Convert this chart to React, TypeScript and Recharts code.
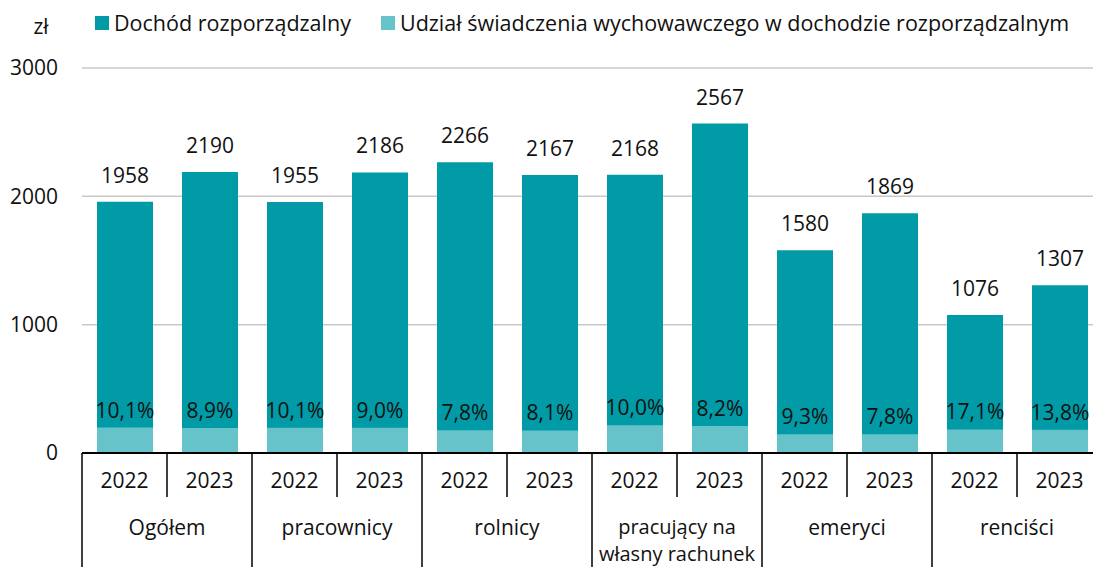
import { BarChart, Bar, XAxis, YAxis, CartesianGrid, Legend, LabelList } from 'recharts'

const groups = ['Ogółem', 'pracownicy', 'rolnicy', 'pracujący na\nwłasny rachunek', 'emeryci', 'renciści']
const years = ['2022', '2023']
// Dochód rozporządzalny (zł) per group and year
const income = [1958, 2190, 1955, 2186, 2266, 2167, 2168, 2567, 1580, 1869, 1076, 1307]
// Udział świadczenia wychowawczego (%)
const share = [10.1, 8.9, 10.1, 9.0, 7.8, 8.1, 10.0, 8.2, 9.3, 7.8, 17.1, 13.8]
const yTicks = [0, 1000, 2000, 3000]

const DARK = '#009ba6'
const LIGHT = '#66c3ca'
const FONT = '"Open Sans", sans-serif'
const FS = 21

const CHART_W = 1102
const CHART_H = 567
const Y_W = 82
const BAND = (CHART_W - Y_W) / income.length

const data = income.map((v, i) => ({
    key: i,
    year: years[i % 2],
    group: groups[Math.floor(i / 2)],
    income: v,
    share: share[i],
    benefit: (v * share[i]) / 100,
}))

function GroupTick(props: any) {
    const { x, y, payload } = props
    const i = payload.index ?? payload.value
    const half = BAND / 2
    const isGroupEnd = i % 2 === 1
    const lines: string[] = isGroupEnd ? [] : data[i].group.split('\n')
    return (
        <g>
            <text x={x} y={y + 35} textAnchor="middle" fontSize={FS} fontFamily={FONT} fill="#111">
                {data[i].year}
            </text>
            {i === 0 && <line x1={x - half} y1={y} x2={x - half} y2={CHART_H} stroke="#000" strokeWidth={1.5} />}
            <line
                x1={x + half}
                y1={y}
                x2={x + half}
                y2={isGroupEnd ? CHART_H : y + 44}
                stroke="#000"
                strokeWidth={1.5}
            />
            {lines.map((t, k) => (
                <text
                    key={k}
                    x={x + half}
                    y={y + 82 - (lines.length > 1 ? 1 : 0) + k * 27}
                    textAnchor="middle"
                    fontSize={lines.length > 1 ? 20 : FS}
                    fontFamily={FONT}
                    fill="#111"
                >
                    {t}
                </text>
            ))}
        </g>
    )
}

function LegendContent() {
    const items = [
        { label: 'Dochód rozporządzalny', color: DARK },
        { label: 'Udział świadczenia wychowawczego w dochodzie rozporządzalnym', color: LIGHT },
    ]
    return (
        <div style={{ display: 'flex', fontFamily: FONT, fontSize: 21.5, color: '#111', paddingLeft: 95 }}>
            {items.map(it => (
                <div key={it.label} style={{ display: 'flex', alignItems: 'center', marginRight: 30 }}>
                    <span style={{ width: 14, height: 14, background: it.color, display: 'inline-block', marginRight: 5 }} />
                    <span>{it.label}</span>
                </div>
            ))}
        </div>
    )
}

export default function App() {
    return (
        <div style={{ position: 'absolute', left: 0, top: 0, width: 1093, height: 567, overflow: 'hidden', background: '#fff' }}>
            <BarChart
                width={CHART_W}
                height={CHART_H}
                data={data}
                margin={{ top: 38, right: 0, left: 0, bottom: 0 }}
                barSize={56}
                barGap={-56}
            >
                <Legend
                    verticalAlign="top"
                    align="left"
                    content={<LegendContent />}
                    wrapperStyle={{ top: 8, left: 0, height: 30 }}
                />
                <CartesianGrid vertical={false} stroke="#c8c8c8" strokeWidth={1.5} />
                <YAxis
                    width={Y_W}
                    domain={[0, 3000]}
                    ticks={yTicks}
                    axisLine={false}
                    tickLine={false}
                    tickSize={0}
                    tickMargin={24}
                    tick={{ fontSize: FS, fontFamily: FONT, fill: '#111' }}
                    label={{ value: 'zł', position: 'top', offset: 34, fontSize: FS, fontFamily: FONT, fill: '#111' }}
                />
                <XAxis
                    dataKey="key"
                    height={CHART_H - 453}
                    interval={0}
                    tickLine={false}
                    tickSize={0}
                    tickMargin={0}
                    axisLine={{ stroke: '#000', strokeWidth: 2 }}
                    tick={<GroupTick />}
                />
                <Bar dataKey="income" fill={DARK} isAnimationActive={false}>
                    <LabelList dataKey="income" position="top" offset={19} fontSize={FS} fontFamily={FONT} fill="#111" />
                </Bar>
                <Bar dataKey="benefit" fill={LIGHT} isAnimationActive={false}>
                    <LabelList
                        dataKey="share"
                        position="top"
                        offset={10}
                        fontSize={FS}
                        fontFamily={FONT}
                        fill="#111"
                        formatter={(v: any) => Number(v).toFixed(1).replace('.', ',') + '%'}
                    />
                </Bar>
            </BarChart>
        </div>
    )
}
